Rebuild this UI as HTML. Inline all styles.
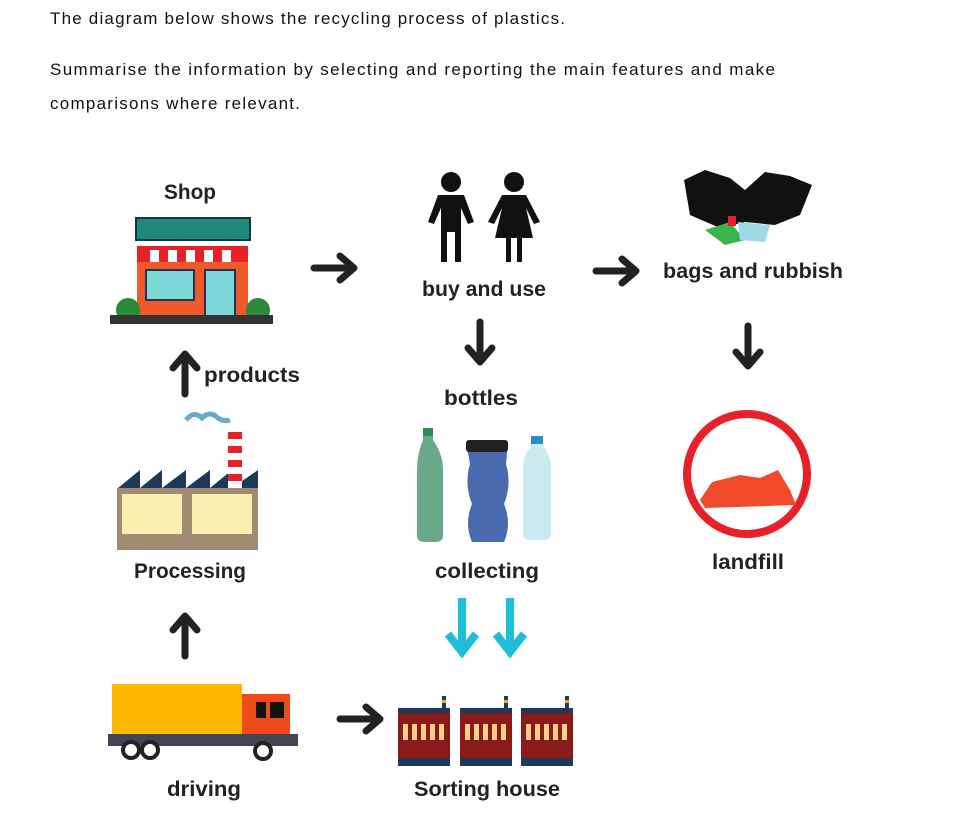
<!DOCTYPE html>
<html><head><meta charset="utf-8"><style>
html,body{margin:0;padding:0;background:#fff;}
svg{display:block;}
.t{font-family:"Liberation Sans",sans-serif;font-size:17px;fill:#111;}
.l{font-family:"Liberation Sans",sans-serif;font-weight:bold;font-size:21px;fill:#222;text-anchor:middle;}
</style></head><body>
<svg width="955" height="831" viewBox="0 0 955 831" xmlns="http://www.w3.org/2000/svg">
<defs>
<g id="ar"><path d="M0 0 H36" stroke="#222" stroke-width="7" stroke-linecap="round" fill="none"/><path d="M26 -12 L40 0 L26 12" stroke="#222" stroke-width="7" stroke-linecap="round" stroke-linejoin="round" fill="none"/></g>
<g id="ca"><path d="M0 0 V48" stroke="#1bbfd8" stroke-width="8" fill="none"/><path d="M-14 36 L0 54 L14 36" stroke="#1bbfd8" stroke-width="8" fill="none"/></g>
<g id="sh"><rect x="0" y="12" width="52" height="56" fill="#8b1a1a"/><rect x="0" y="12" width="52" height="5" fill="#1e3a5a"/><rect x="0" y="62" width="52" height="8" fill="#1e3a5a"/><rect x="44" y="0" width="4" height="14" fill="#1e3a5a"/><rect x="44" y="4" width="4" height="3" fill="#f5a623"/>
<g fill="#f4d08a"><rect x="5" y="28" width="5" height="16"/><rect x="14" y="28" width="5" height="16"/><rect x="23" y="28" width="5" height="16"/><rect x="32" y="28" width="5" height="16"/><rect x="41" y="28" width="5" height="16"/></g></g>
</defs>
<text class="t" x="50" y="24" textLength="515">The diagram below shows the recycling process of plastics.</text>
<text class="t" x="50" y="75" textLength="725">Summarise the information by selecting and reporting the main features and make</text>
<text class="t" x="50" y="109" textLength="250">comparisons where relevant.</text>

<!-- shop -->
<text class="l" x="190" y="199" textLength="52" lengthAdjust="spacingAndGlyphs">Shop</text>
<rect x="136" y="218" width="114" height="22" fill="#1f8a7a" stroke="#134" stroke-width="2"/>
<rect x="137" y="258" width="111" height="58" fill="#f05a2a"/>
<g fill="#e8202a"><rect x="137" y="246" width="111" height="16"/></g>
<g fill="#fff"><rect x="150" y="250" width="9" height="12"/><rect x="168" y="250" width="9" height="12"/><rect x="186" y="250" width="9" height="12"/><rect x="204" y="250" width="9" height="12"/><rect x="222" y="250" width="9" height="12"/></g>
<rect x="146" y="270" width="48" height="30" fill="#7fd8d8" stroke="#235" stroke-width="2"/>
<rect x="205" y="270" width="30" height="46" fill="#7fd8d8" stroke="#235" stroke-width="2"/>
<ellipse cx="128" cy="310" rx="12" ry="12" fill="#2a8a3a"/><ellipse cx="258" cy="310" rx="12" ry="12" fill="#2a8a3a"/>
<rect x="110" y="315" width="163" height="9" fill="#333"/>
<use href="#ar" x="314" y="268"/>

<!-- people -->
<g fill="#111">
<circle cx="451" cy="182" r="10"/><path d="M438 195 H464 L474 222 L468 224 L461 208 V262 H455 V232 H447 V262 H441 V208 L434 224 L428 222 Z"/>
<circle cx="514" cy="182" r="10"/><path d="M502 195 H526 L540 222 L534 224 L526 208 L533 238 H522 V262 H517 V238 H511 V262 H506 V238 H495 L502 208 L494 224 L488 222 Z"/>
</g>
<text class="l" x="484" y="296" textLength="124" lengthAdjust="spacingAndGlyphs">buy and use</text>
<use href="#ar" x="596" y="271"/>

<!-- bags -->
<path d="M684 180 L705 170 L730 178 L745 190 L765 172 L790 176 L812 185 L800 215 L775 225 L745 222 L720 228 L690 215 Z" fill="#111"/>
<path d="M705 230 L730 222 L745 240 L725 245 Z" fill="#3ab54a"/><path d="M738 222 L770 225 L765 242 L740 240 Z" fill="#9fd8e8"/>
<rect x="728" y="216" width="8" height="10" fill="#e8202a"/>
<text class="l" x="753" y="278" textLength="180" lengthAdjust="spacingAndGlyphs">bags and rubbish</text>

<!-- down arrows -->
<g transform="translate(480,322) rotate(90)"><use href="#ar"/></g>
<g transform="translate(748,326) rotate(90)"><use href="#ar"/></g>
<text class="l" x="481" y="405" textLength="74" lengthAdjust="spacingAndGlyphs">bottles</text>

<!-- products -->
<g transform="translate(185,394) rotate(-90)"><use href="#ar"/></g>
<text class="l" x="252" y="382" textLength="96" lengthAdjust="spacingAndGlyphs">products</text>

<!-- factory -->
<path d="M118 488 L140 470 V488 L162 470 V488 L186 470 V488 L210 470 V488 L232 470 V488 L258 470 V488 Z" fill="#1e3a5a"/>
<rect x="228" y="430" width="14" height="58" fill="#fff"/>
<g fill="#e8202a"><rect x="228" y="432" width="14" height="7"/><rect x="228" y="446" width="14" height="7"/><rect x="228" y="460" width="14" height="7"/><rect x="228" y="474" width="14" height="7"/></g>
<path d="M186 420 q8 -10 16 -2 q8 -8 16 0 q6 4 12 2" stroke="#6ac" stroke-width="5" fill="none"/>
<rect x="117" y="488" width="141" height="62" fill="#a08a72"/>
<rect x="122" y="494" width="60" height="40" fill="#f8efb0"/><rect x="192" y="494" width="60" height="40" fill="#f8efb0"/>
<text class="l" x="190" y="578" textLength="112" lengthAdjust="spacingAndGlyphs">Processing</text>

<!-- bottles -->
<path d="M423 428 h10 v12 q10 14 10 30 v66 q0 6 -8 6 h-10 q-8 0 -8 -6 v-66 q0 -16 6 -30z" fill="#6aa88a"/>
<rect x="423" y="428" width="10" height="8" fill="#2a8a5a"/>
<path d="M466 442 h42 l-2 22 q6 20 -2 40 q8 20 0 38 h-32 q-8 -18 0 -38 q-8 -20 -2 -40z" fill="#4a6ab0"/>
<rect x="466" y="440" width="42" height="12" fill="#222" rx="3"/>
<path d="M531 436 h12 v10 q8 10 8 22 v64 q0 8 -6 8 h-16 q-6 0 -6 -8 v-64 q0 -12 8 -22z" fill="#c8eaf0"/>
<rect x="531" y="436" width="12" height="8" fill="#2a90c0"/>
<text class="l" x="487" y="578" textLength="104" lengthAdjust="spacingAndGlyphs">collecting</text>

<!-- landfill -->
<circle cx="747" cy="474" r="60" fill="#fff" stroke="#e8202a" stroke-width="8"/>
<path d="M700 500 L712 482 L740 475 L760 478 L778 470 L790 490 L796 505 L705 508 Z" fill="#f04a2a"/>
<text class="l" x="748" y="569" textLength="72" lengthAdjust="spacingAndGlyphs">landfill</text>

<!-- lower arrows -->
<g transform="translate(185,656) rotate(-90)"><use href="#ar"/></g>
<use href="#ca" x="462" y="598"/><use href="#ca" x="510" y="598"/>

<!-- truck -->
<rect x="112" y="684" width="130" height="50" fill="#fcb900"/>
<rect x="242" y="694" width="48" height="42" fill="#f04a1a"/>
<rect x="256" y="702" width="10" height="16" fill="#111"/><rect x="270" y="702" width="14" height="16" fill="#111"/>
<rect x="108" y="734" width="190" height="12" fill="#445"/>
<g fill="#fff" stroke="#222" stroke-width="4"><circle cx="131" cy="750" r="8"/><circle cx="150" cy="750" r="8"/><circle cx="263" cy="751" r="8"/></g>
<text class="l" x="204" y="796" textLength="74" lengthAdjust="spacingAndGlyphs">driving</text>
<use href="#ar" x="340" y="719"/>

<!-- sorting house -->
<use href="#sh" x="398" y="696"/><use href="#sh" x="460" y="696"/><use href="#sh" x="521" y="696"/>
<text class="l" x="487" y="796" textLength="146" lengthAdjust="spacingAndGlyphs">Sorting house</text>
</svg>
</body></html>
